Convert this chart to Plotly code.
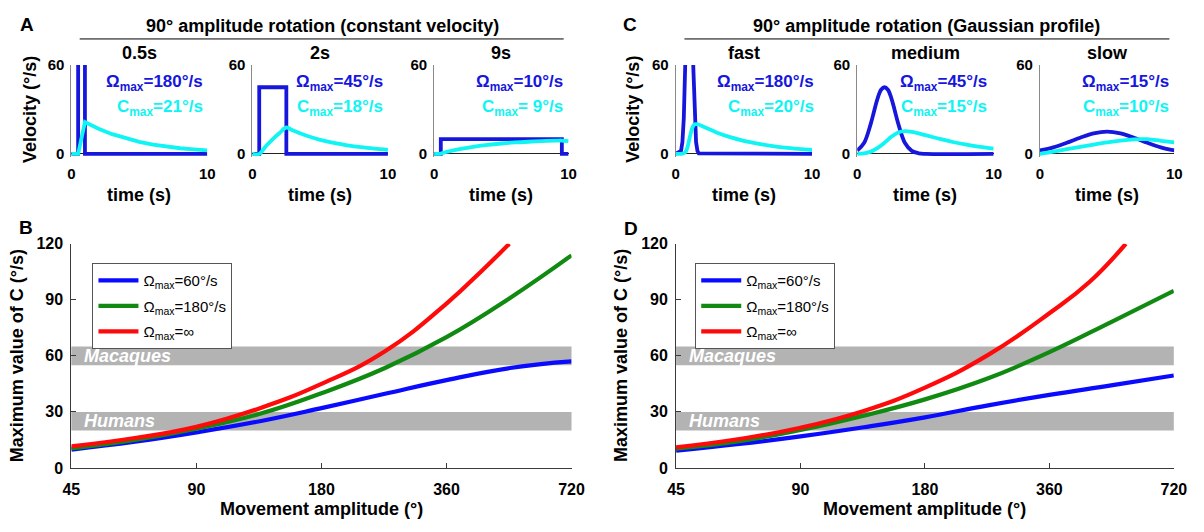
import math
import plotly.graph_objects as go

W, H = 1204, 532
FONT = "Arial, Liberation Sans, sans-serif"

# ---------------- data: panel A (constant velocity), time (s) / velocity (deg/s)
a1_t_omega = [0, 0.5, 0.5, 1.0, 1.0, 10]
a1_omega = [0, 0, 180, 180, 0, 0]
a1_t_c = [0, 0.5, 1.0, 2, 3, 4, 5, 6, 7, 8, 9, 10]
a1_c = [0, 0, 21.5, 17.0, 13.3, 10.4, 8.1, 6.3, 4.9, 3.8, 3.0, 2.3]

a2_t_omega = [0, 0.5, 0.5, 2.5, 2.5, 10]
a2_omega = [0, 0, 45, 45, 0, 0]
a2_t_c = [0, 0.5, 1.0, 1.5, 2.0, 2.5, 3, 4, 5, 6, 7, 8, 9, 10]
a2_c = [0, 0, 5.3, 10.0, 14.1, 17.8, 15.7, 12.2, 9.5, 7.4, 5.8, 4.5, 3.5, 2.7]

a3_t_omega = [0, 0.5, 0.5, 9.5, 9.5, 10]
a3_omega = [0, 0, 10, 10, 0, 0]
a3_t_c = [0, 0.5, 1, 2, 3, 4, 5, 6, 7, 8, 9, 9.5, 10]
a3_c = [0, 0.2, 1.5, 3.4, 4.9, 6.1, 7.0, 7.7, 8.2, 8.6, 8.9, 9.0, 8.6]

# ---------------- data: panel C (Gaussian profile)
c1_t_omega = [0, 0.4, 0.5, 0.6, 0.7, 0.8, 0.9, 1.0, 1.1, 1.2, 1.3, 1.4, 1.5, 1.6, 1.7, 10]
c1_omega = [0, 2, 8, 24, 58, 109, 159, 180, 159, 109, 58, 24, 8, 2, 0.3, 0]
c1_t_c = [0, 0.5, 0.7, 0.8, 0.9, 1.0, 1.1, 1.2, 1.3, 1.4, 1.6, 2, 3, 4, 5, 6, 7, 8, 9, 10]
c1_c = [0, 0.2, 1, 2.5, 5.5, 9.5, 13.5, 16.8, 19, 20, 20, 18.5, 14.5, 11.3, 8.8, 6.9, 5.4, 4.2, 3.3, 2.6]

c2_t_omega = [0, 0.5, 1, 1.25, 1.5, 1.75, 2, 2.25, 2.5, 2.75, 3, 3.5, 4, 4.5, 5, 10]
c2_omega = [2.3, 7.3, 20.6, 29.3, 37.7, 43.3, 45, 43.3, 37.7, 29.3, 20.6, 7.3, 2.0, 0.4, 0, 0]
c2_t_c = [0, 0.5, 1, 1.5, 2, 2.5, 3, 3.5, 4, 5, 6, 7, 8, 9, 10]
c2_c = [0, 0.3, 1.5, 4.0, 7.5, 11.5, 14.5, 15.4, 14.8, 12.6, 10.2, 8.0, 6.2, 4.7, 3.5]

c3_t_omega = [0, 1, 2, 3, 4, 5, 6, 7, 8, 9, 10]
c3_omega = [2.3, 4.4, 7.5, 10.9, 13.8, 15.0, 13.8, 10.9, 7.5, 4.4, 2.3]
c3_t_c = [0, 1, 2, 3, 4, 5, 6, 7, 7.5, 8, 9, 10]
c3_c = [0, 1.5, 3.2, 4.8, 6.3, 7.7, 8.9, 9.8, 10.0, 9.9, 8.8, 7.7]

# ---------------- data: panels B / D, max of C vs movement amplitude
amp = [45, 64, 90, 128, 180, 256, 360, 512, 720]
b_omega60 = [9.8, 14.0, 19.0, 25.0, 32.0, 39.7, 47.0, 53.5, 57.0]
b_omega180 = [10.5, 15.0, 21.0, 29.0, 40.0, 53.5, 70.0, 91.0, 113.8]
b_amp_inf = [45, 64, 90, 128, 180, 256, 360, 440, 510]
b_omega_inf = [11.5, 16.0, 22.0, 32.0, 45.0, 62.5, 88.0, 106.0, 120.0]

d_omega60 = [9.2, 12.8, 16.9, 21.8, 27.1, 33.5, 39.1, 44.3, 49.5]
d_omega180 = [10.3, 14.3, 20.3, 28.0, 36.7, 48.0, 62.0, 78.5, 94.8]
d_amp_inf = [45, 64, 90, 128, 180, 256, 360, 450, 551]
d_omega_inf = [11.0, 15.5, 21.5, 30.5, 43.0, 60.5, 82.8, 99.5, 120.0]

small_titles = ["0.5s", "2s", "9s", "fast", "medium", "slow"]
omega_labels = ["180", "45", "10", "180", "45", "15"]
cmax_labels = ["21", "18", " 9", "20", "15", "10"]
amp_ticks = [45, 90, 180, 360, 720]
c_ticks = [0, 30, 60, 90, 120]
legend_names = ["Ω<sub>max</sub>=60°/s", "Ω<sub>max</sub>=180°/s", "Ω<sub>max</sub>=∞"]

# ---------------- colours / layout helpers
BLUE_S = "#1616dc"
CYAN = "#10f4f4"
BLUE = "#0a0aff"
GREEN = "#118a11"
RED = "#ff0a0a"
AXC = "#3a3a3a"

def px2x(px):
    return px / W

def py2y(py):
    return 1 - py / H

small_x = [(63.5, 202), (248, 386), (433, 570), (679, 818), (864, 1003), (1050, 1187)]
small_y = (58, 153)
big_x = [(63.5, 573), (679.5, 1186.5)]
big_y = (243, 475)

fig = go.Figure()
layout = dict(
    width=W, height=H, margin=dict(l=0, r=0, t=0, b=0),
    paper_bgcolor="white", plot_bgcolor="white",
    font=dict(family=FONT, color="black"),
    showlegend=True, annotations=[], shapes=[],
)

small_series = [
    (a1_t_omega, a1_omega, a1_t_c, a1_c, "linear", "linear"),
    (a2_t_omega, a2_omega, a2_t_c, a2_c, "linear", "spline"),
    (a3_t_omega, a3_omega, a3_t_c, a3_c, "linear", "spline"),
    (c1_t_omega, c1_omega, c1_t_c, c1_c, "linear", "spline"),
    (c2_t_omega, c2_omega, c2_t_c, c2_c, "spline", "spline"),
    (c3_t_omega, c3_omega, c3_t_c, c3_c, "spline", "spline"),
]
text_xfrac = [0.985, 0.975, 0.975, 1.03, 0.965, 0.972]

tickfont_small = dict(family=FONT, size=15, weight="bold", color="black")

for i, (to, om, tc, cc, so, sc) in enumerate(small_series):
    k = i + 1
    xa = "x" if k == 1 else f"x{k}"
    ya = "y" if k == 1 else f"y{k}"
    x0, x1 = small_x[i]
    fig.add_trace(go.Scatter(x=to, y=om, mode="lines", xaxis=xa, yaxis=ya,
                             line=dict(color=BLUE_S, width=3.8, shape=so),
                             showlegend=False, hoverinfo="skip"))
    fig.add_trace(go.Scatter(x=tc, y=cc, mode="lines", xaxis=xa, yaxis=ya,
                             line=dict(color=CYAN, width=3.8, shape=sc),
                             showlegend=False, hoverinfo="skip"))
    layout["xaxis" if k == 1 else f"xaxis{k}"] = dict(
        domain=[px2x(x0), px2x(x1)], range=[0, 10], tickvals=[0, 10],
        showline=False, showgrid=False, zeroline=False, ticks="",
        tickfont=tickfont_small, anchor=ya, ticklabelstandoff=6,
    )
    layout["yaxis" if k == 1 else f"yaxis{k}"] = dict(
        domain=[py2y(small_y[1]), py2y(small_y[0])], range=[-2, 60], tickvals=[0, 60],
        showline=True, linecolor="#8a8a8a", linewidth=1, showgrid=False,
        zeroline=True, zerolinecolor="#222222", zerolinewidth=1, ticks="",
        tickfont=tickfont_small, anchor=xa, ticklabelstandoff=3,
    )
    cx = (x0 + x1) / 2
    layout["annotations"].append(dict(
        text=small_titles[i], x=px2x(cx), y=py2y(46), xref="paper", yref="paper",
        showarrow=False, font=dict(size=18, weight="bold"), xanchor="center", yanchor="middle"))
    tx = x0 + (x1 - x0) * text_xfrac[i]
    layout["annotations"].append(dict(
        text=f"Ω<sub>max</sub>={omega_labels[i]}°/s", x=px2x(tx), y=py2y(63), xref="paper", yref="paper",
        showarrow=False, font=dict(size=17, weight="bold", color=BLUE_S), xanchor="right", yanchor="top"))
    layout["annotations"].append(dict(
        text=f"C<sub>max</sub>={cmax_labels[i]}°/s", x=px2x(tx), y=py2y(89), xref="paper", yref="paper",
        showarrow=False, font=dict(size=17, weight="bold", color=CYAN), xanchor="right", yanchor="top"))
    layout["annotations"].append(dict(
        text="time (s)", x=px2x(cx), y=py2y(193), xref="paper", yref="paper",
        showarrow=False, font=dict(size=18, weight="bold"), xanchor="center", yanchor="middle"))

# Velocity y-titles
for px in (22, 636):
    layout["annotations"].append(dict(
        text="Velocity (°/s)", x=px2x(px), y=py2y(104), xref="paper", yref="paper", textangle=-90,
        showarrow=False, font=dict(size=18, weight="bold"), xanchor="center", yanchor="middle"))

# Group titles + underline
for (cx, l0, l1, title) in [(319, 72, 565, "90° amplitude rotation (constant velocity)"),
                            (935, 688, 1182, "90° amplitude rotation (Gaussian profile)")]:
    layout["annotations"].append(dict(
        text=title, x=px2x(cx), y=py2y(18), xref="paper", yref="paper",
        showarrow=False, font=dict(size=18, weight="bold"), xanchor="center", yanchor="middle"))
    layout["shapes"].append(dict(type="line", xref="paper", yref="paper",
                                 x0=px2x(l0), x1=px2x(l1), y0=py2y(31), y1=py2y(31),
                                 line=dict(color="black", width=1)))

# Panel letters
for (lx, ly, lt) in [(18, 16, "A"), (17, 226, "B"), (633, 16, "C"), (634, 227, "D")]:
    layout["annotations"].append(dict(
        text=lt, x=px2x(lx), y=py2y(ly), xref="paper", yref="paper",
        showarrow=False, font=dict(size=19, weight="bold"), xanchor="center", yanchor="middle"))

# ---------------- big panels B and D
big_series = [
    (b_omega60, b_omega180, b_amp_inf, b_omega_inf, "legend"),
    (d_omega60, d_omega180, d_amp_inf, d_omega_inf, "legend2"),
]
tickfont_big = dict(family=FONT, size=16, weight="bold", color="black")
for j, (s60, s180, ainf, sinf, leg) in enumerate(big_series):
    k = 7 + j
    xa, ya = f"x{k}", f"y{k}"
    x0, x1 = big_x[j]
    for g, (xs, ys, col, name) in enumerate([(amp, s60, BLUE, legend_names[0]),
                                             (amp, s180, GREEN, legend_names[1]),
                                             (ainf, sinf, RED, legend_names[2])]):
        fig.add_trace(go.Scatter(x=xs, y=ys, mode="lines", xaxis=xa, yaxis=ya, name=name,
                                 line=dict(color=col, width=4.2, shape="spline", smoothing=1.3),
                                 legend=leg, legendgroup=f"{leg}_{g}", showlegend=True,
                                 hoverinfo="skip"))
    layout[f"xaxis{k}"] = dict(
        domain=[px2x(x0), px2x(x1)], type="log", range=[math.log10(45), math.log10(720)],
        tickvals=amp_ticks, ticktext=[str(v) for v in amp_ticks],
        showline=True, linecolor=AXC, linewidth=1, ticks="inside", ticklen=5, tickcolor=AXC,
        showgrid=False, zeroline=False, tickfont=tickfont_big, anchor=ya, ticklabelstandoff=7,
    )
    layout[f"yaxis{k}"] = dict(
        domain=[py2y(big_y[1]), py2y(big_y[0])], range=[0, 120], tickvals=c_ticks,
        showline=True, linecolor=AXC, linewidth=1, ticks="inside", ticklen=5, tickcolor=AXC,
        showgrid=False, zeroline=False, tickfont=tickfont_big, anchor=xa, ticklabelstandoff=4,
    )
    for (y0, y1, lab, ly) in [(55, 65, "Macaques", 60), (20, 30, "Humans", 25)]:
        layout["shapes"].append(dict(type="rect", xref=f"{xa} domain", yref=ya, x0=0, x1=1,
                                     y0=y0, y1=y1, fillcolor="#b3b3b3", line=dict(width=0),
                                     layer="below"))
        layout["annotations"].append(dict(
            text=f"<i>{lab}</i>", x=0.022, y=ly, xref=f"{xa} domain", yref=ya, showarrow=False,
            font=dict(size=18, weight="bold", color="white"), xanchor="left", yanchor="middle"))
    cx = (x0 + x1) / 2
    layout["annotations"].append(dict(
        text="Movement amplitude (°)", x=px2x(cx), y=py2y(518), xref="paper", yref="paper",
        showarrow=False, font=dict(size=18, weight="bold"), xanchor="center", yanchor="middle"))
    layout["annotations"].append(dict(
        text="Maximum value of C (°/s)", x=px2x(x0 - 56), y=py2y(359), xref="paper", yref="paper",
        textangle=-90, showarrow=False, font=dict(size=18, weight="bold"),
        xanchor="center", yanchor="middle"))

legend_common = dict(xanchor="left", yanchor="top", bordercolor="#555555", borderwidth=1,
                     bgcolor="white", font=dict(family=FONT, size=15, color="black"),
                     tracegroupgap=3, itemwidth=40, traceorder="grouped")
layout["legend"] = dict(x=px2x(85), y=py2y(263), **legend_common)
layout["legend2"] = dict(x=px2x(699), y=py2y(263), **legend_common)

fig.update_layout(**layout)
fig.write_html("out.html")
